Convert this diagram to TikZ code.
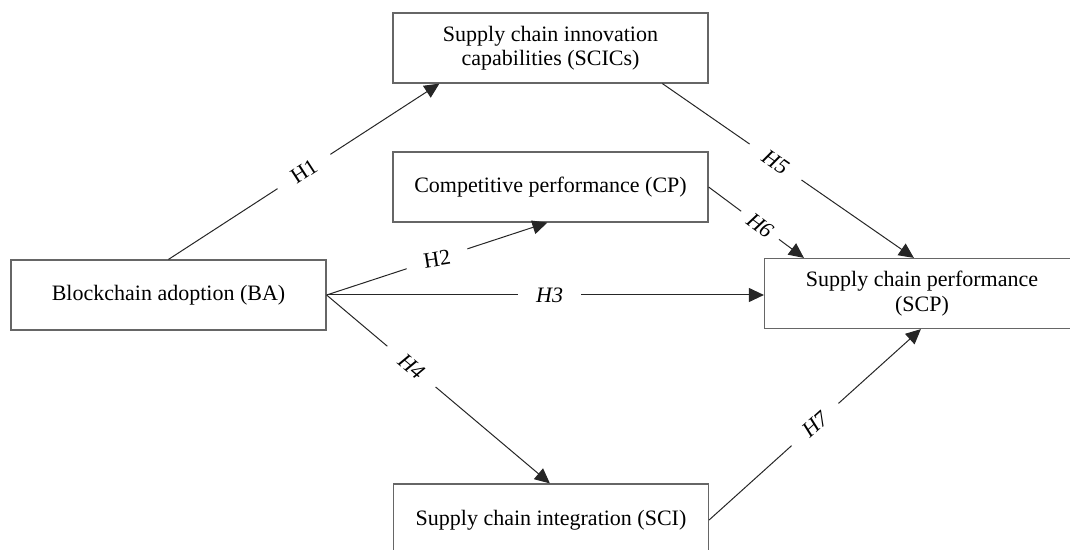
\documentclass[tikz,border=0pt]{standalone}
\usepackage{fontspec}
\setmainfont{Liberation Serif}
\usetikzlibrary{arrows.meta,calc}
\begin{document}
\begin{tikzpicture}[x=0.5pt,y=-0.5pt,
  box/.style={draw=black!60,line width=0.6pt,rectangle,minimum width=157.5pt,minimum height=35pt,
    align=center,inner sep=0pt,font=\fontsize{11}{12.2}\selectfont},
  conn/.style={draw=black!85,line width=0.5pt,-{Triangle[length=7.5pt,width=7pt]}},
  plain/.style={draw=black!85,line width=0.5pt},
  hlab/.style={fill=white,inner xsep=9pt,inner ysep=2pt,font=\fontsize{11}{12}\selectfont},
]
\useasboundingbox (0,0) rectangle (1070,550);
\node[box] (SCICs) at (550.5,48) {Supply chain innovation\\capabilities (SCICs)};
\node[box] (CP) at (550.5,187) {Competitive performance (CP)};
\node[box] (BA) at (168.5,295) {Blockchain adoption (BA)};
\node[box] (SCP) at (922,293.5) {Supply chain performance\\(SCP)};
\node[box,minimum height=36pt] (SCI) at (551,520) {Supply chain integration (SCI)};

\coordinate (h1e) at ($(SCICs.south west)+(47,0)$);
\coordinate (h2e) at ($(CP.south west)+(155,0)$);
\coordinate (h4e) at ($(SCI.north west)+(157,0)$);
\coordinate (h5s) at ($(SCICs.south west)+(270,0)$);
\coordinate (h5e) at ($(SCP.north west)+(150,0)$);
\coordinate (h6e) at ($(SCP.north west)+(40,0)$);
\coordinate (h7e) at ($(SCP.south west)+(157,0)$);

\draw[conn] (BA.north) -- node[hlab,sloped,pos=0.5] {H1} (h1e);
\draw[conn] (BA.east) -- node[hlab,rotate=9,pos=0.5] {H2} (h2e);
\draw[conn] (BA.east) -- node[hlab,pos=0.51] {\itshape H3} (BA.east -| SCP.west);
\draw[conn] (BA.east) -- node[hlab,sloped,pos=0.38] {\itshape H4} (h4e);
\draw[conn] (h5s) -- node[hlab,sloped,pos=0.45] {\itshape H5} (h5e);
\draw[conn] (CP.east) -- node[hlab,sloped,pos=0.54,inner xsep=5pt] {\itshape H6} (h6e);
\draw[conn] (SCI.east) -- node[hlab,sloped,pos=0.5] {\itshape H7} (h7e);
\end{tikzpicture}
\end{document}
